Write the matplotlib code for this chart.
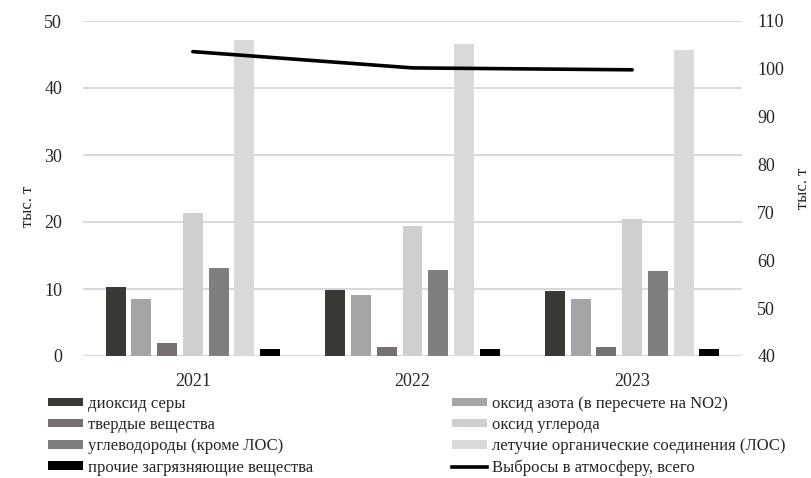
import matplotlib
matplotlib.use("Agg")
import matplotlib.pyplot as plt
import numpy as np
from matplotlib.patches import Patch
from matplotlib.lines import Line2D

plt.rcParams['font.family'] = ['Liberation Serif', 'DejaVu Serif']

years = ["2021", "2022", "2023"]
series_names = [
    "диоксид серы",
    "оксид азота (в пересчете на NO2)",
    "твердые вещества",
    "оксид углерода",
    "углеводороды (кроме ЛОС)",
    "летучие органические соединения (ЛОС)",
    "прочие загрязняющие вещества",
]
sulfur_dioxide = [10.3, 9.9, 9.7]
nitrogen_oxide = [8.5, 9.1, 8.5]
solids = [2.0, 1.3, 1.4]
carbon_monoxide = [21.3, 19.4, 20.4]
hydrocarbons = [13.1, 12.9, 12.7]
voc = [47.2, 46.6, 45.7]
other = [1.1, 1.0, 1.1]
total_name = "Выбросы в атмосферу, всего"
total = [103.6, 100.2, 99.8]

series_values = [sulfur_dioxide, nitrogen_oxide, solids, carbon_monoxide,
                 hydrocarbons, voc, other]
colors = ["#3b3936", "#a5a5a5", "#767171", "#d0cece", "#7f7f7f", "#d9d9d9", "#000000"]

fig = plt.figure(figsize=(8.12, 4.78), dpi=100)
ax = fig.add_axes([83/812, 1-356/478, (742-83)/812, (356-21)/478])
x = np.arange(len(years))
pitch = 0.117
width = 0.091
for j, (vals, c) in enumerate(zip(series_values, colors)):
    ax.bar(x + (j-3)*pitch, vals, width=width, color=c, zorder=3)

ax.set_xlim(-0.5, 2.5)
ax.set_ylim(0, 50)
ax.set_yticks([0, 10, 20, 30, 40, 50])
ax.grid(axis='y', color='#d9d9d9', linewidth=1.5, zorder=0)
ax.set_xticks(x)
ax.set_xticklabels(years)
for s in ax.spines.values():
    s.set_visible(False)
ax.tick_params(axis='both', length=0, labelsize=13, colors='#262626')
ax.tick_params(axis='y', pad=15)
ax.tick_params(axis='x', pad=12)

ax2 = ax.twinx()
ax2.plot(x, total, color='black', linewidth=2.6, zorder=4, solid_capstyle='round')
ax2.set_ylim(40, 110)
ax2.set_yticks(np.arange(40, 111, 10))
for s in ax2.spines.values():
    s.set_visible(False)
ax2.tick_params(axis='y', length=0, labelsize=13, pad=11, colors='#262626')

fig.text(28/812, 1-206/478, "тыс. т", rotation=90, ha='center', va='center', fontsize=12, color='#262626')
fig.text(803/812, 1-188/478, "тыс. т", rotation=90, ha='center', va='center', fontsize=12, color='#262626')

left_idx = [0, 2, 4, 6]
right_idx = [1, 3, 5]
lh = [Patch(facecolor=colors[i], edgecolor='none') for i in left_idx]
ll = [series_names[i] for i in left_idx]
rh = [Patch(facecolor=colors[i], edgecolor='none') for i in right_idx] + [Line2D([], [], color='black', linewidth=2.6)]
rl = [series_names[i] for i in right_idx] + [total_name]
common = dict(frameon=False, fontsize=12, handlelength=2.1, handleheight=0.4,
              handletextpad=0.3, labelspacing=0.31, borderpad=0, borderaxespad=0,
              loc='upper left', labelcolor='#262626')
fig.legend(lh, ll, bbox_to_anchor=(48/812, 1-396/478), **common)
fig.legend(rh, rl, bbox_to_anchor=(452/812, 1-396/478), **common)

fig.savefig("out.png", dpi=100)
